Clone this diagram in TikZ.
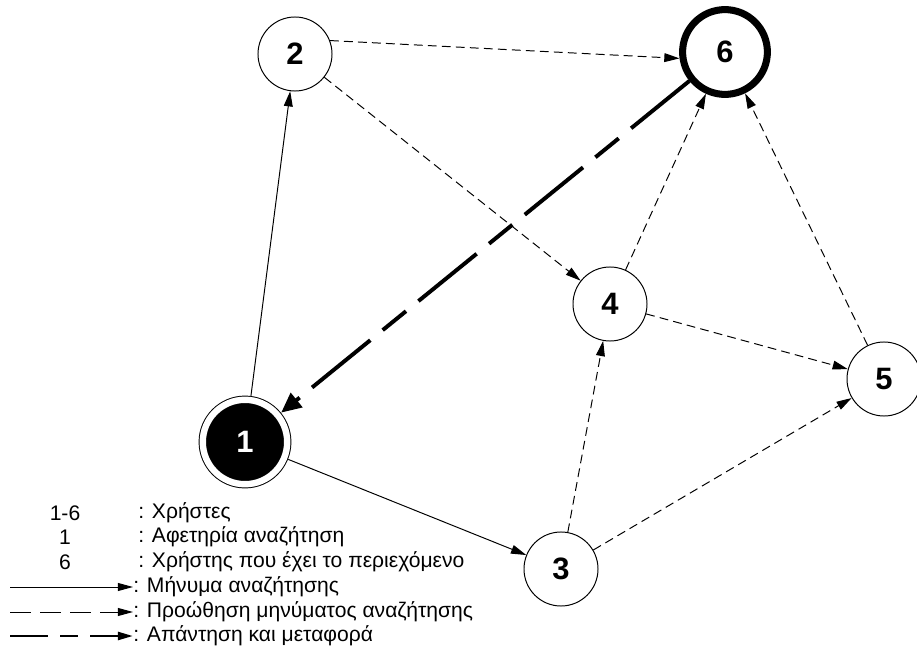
\documentclass[tikz,border=0pt]{standalone}
\usepackage{fontspec}
\setmainfont{Liberation Sans}
\usetikzlibrary{arrows.meta}
\tikzset{
  usernode/.style={circle,draw=black,line width=0.7pt,fill=white,inner sep=0pt,
    minimum size=1.85cm,font=\fontsize{22}{26}\selectfont\bfseries},
  startnode/.style={usernode,fill=black,text=white,double=white,
    double distance=0.16cm,minimum size=2.11cm,outer sep=0.11cm},
  ownernode/.style={usernode,line width=5pt,minimum size=2.12cm},
  querymsg/.style={-{Triangle[length=0.38cm,width=0.22cm]},line width=0.7pt},
  fwdmsg/.style={querymsg,dash pattern=on 0.22cm off 0.13cm},
  replymsg/.style={-{Triangle[length=0.5cm,width=0.45cm]},line width=2.8pt,
    dash pattern=on 1.875cm off 0.4cm on 0.75cm off 0.4cm},
  legquery/.style={-{Triangle[length=0.38cm,width=0.2cm]},line width=0.7pt},
  legfwd/.style={legquery,dash pattern=on 0.52cm off 0.23cm},
  legreply/.style={legquery,line width=1.8pt,
    dash pattern=on 0.95cm off 0.3cm on 0.45cm off 0.3cm},
  legtext/.style={font=\fontsize{15}{18}\selectfont,inner sep=0pt}
}

\begin{document}
\begin{tikzpicture}[x=0.025cm,y=-0.025cm]
  \useasboundingbox (0,0) rectangle (917,650);
  % users
  \node[startnode] (n1) at (245,442) {1};
  \node[usernode] (n2) at (295,54) {2};
  \node[usernode] (n3) at (561,569) {3};
  \node[usernode] (n4) at (610,304) {4};
  \node[usernode] (n5) at (884,379) {5};
  \node[ownernode] (n6) at (725,52) {6};
  % messages
  \draw[querymsg] (n1) -- (n2);
  \draw[querymsg] (n1) -- (n3);
  \draw[fwdmsg] (n2.21) -- (n6.188);
  \draw[fwdmsg] (n2) -- (n4);
  \draw[fwdmsg] (n3) -- (n4);
  \draw[fwdmsg] (n3) -- (n5);
  \draw[fwdmsg] (n4) -- (n6);
  \draw[fwdmsg] (n4) -- (n5);
  \draw[fwdmsg] (n5) -- (n6);
  \draw[replymsg] (n6) -- (n1);
  % legend
  \node[legtext] (k16) at (65,513) {1-6};
  \node[legtext,anchor=west] (t16) at (138,513) {: Χρήστες};
  \node[legtext] (k1) at (65,537) {1};
  \node[legtext,anchor=west] (t1) at (138,537) {: Αφετηρία αναζήτηση};
  \node[legtext] (k6) at (65,562) {6};
  \node[legtext,anchor=west] (t6) at (138,562) {: Χρήστης που έχει το περιεχόμενο};
  \node[legtext,anchor=west] (tq) at (133,587) {: Μήνυμα αναζήτησης};
  \node[legtext,anchor=west] (tf) at (133,612) {: Προώθηση μηνύματος αναζήτησης};
  \node[legtext,anchor=west] (tr) at (133,636) {: Απάντηση και μεταφορά};
  \coordinate (sq) at (10,587);
  \coordinate (sf) at (10,612);
  \coordinate (sr) at (10,636);
  \draw[legquery] (sq) -- (tq.west);
  \draw[legfwd] (sf) -- (tf.west);
  \draw[legreply] (sr) -- (tr.west);
\end{tikzpicture}
\end{document}
